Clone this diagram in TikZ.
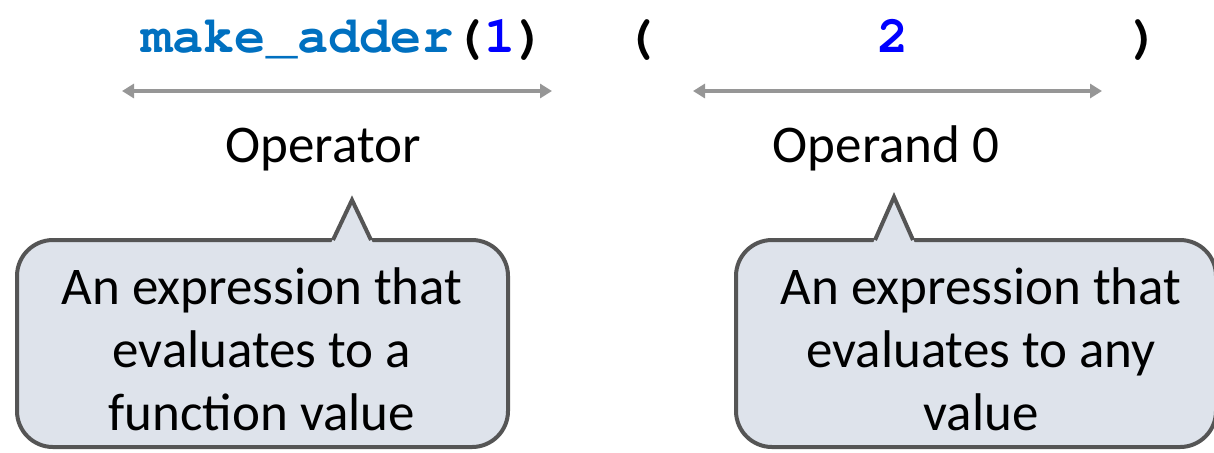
\documentclass[tikz,border=0pt]{standalone}
\usepackage[T1]{fontenc}
\usepackage{fontspec}
\setmainfont{Carlito}
\usetikzlibrary{arrows.meta,calc,positioning}

\newcommand\codefont{\fontencoding{T1}\fontfamily{pcr}\fontseries{b}\selectfont}

\definecolor{codeblue}{RGB}{0,112,192}
\definecolor{numblue}{RGB}{0,0,255}
\definecolor{spangray}{RGB}{150,150,150}
\definecolor{bubblefill}{RGB}{222,227,235}
\definecolor{bubbleline}{RGB}{85,85,85}

\tikzset{
  code/.style={font=\fontsize{26}{26}\codefont, inner sep=0pt, anchor=base},
  part/.style={font=\fontsize{26.5}{31}\selectfont, inner sep=0pt, anchor=base},
  span/.style={spangray, line width=2pt, {Triangle[length=6pt,width=7pt]}-{Triangle[length=6pt,width=7pt]}},
  bubble/.style={draw=bubbleline, fill=bubblefill, line width=2pt, rounded corners=18pt,
    minimum height=103.5pt, inner sep=0pt, outer sep=0pt},
  note/.style={align=center, inner sep=0pt, anchor=base, font=\fontsize{26.5}{31.5}\selectfont},
}

\begin{document}
\begin{tikzpicture}[x=0.5pt,y=-0.5pt]
\useasboundingbox (0,0) rectangle (1214,452);

% the call expression
\node[code] (fn) at (344,52) {\textcolor{codeblue}{make\_adder}(\textcolor{numblue}{1})};
\node[code] (lpar) at (640,52) {(};
\node[code, numblue] (arg) at (893,52) {2};
\node[code] (rpar) at (1145,52) {)};

% spans
\coordinate (opl) at (122,91);
\coordinate (opr) at (552,91);
\coordinate (argl) at (693,91);
\coordinate (argr) at (1102,91);
\draw[span] (opl) -- (opr);
\draw[span] (argl) -- (argr);

\node[part] (operator) at (323,162) {Operator};
\node[part] (operand) at (886,162) {Operand 0};

% callouts
\node[bubble, minimum width=245.5pt] (opbox) at (262.5,343.5) {};
\node[bubble, minimum width=240pt] (argbox) at (976,343.5) {};

\coordinate (optip) at (352,200);
\coordinate (argtip) at (894,197);
\foreach \tip/\bub in {optip/opbox, argtip/argbox}{
  \fill[bubblefill] ($(\tip |- \bub.north)+(-10.5pt,-1.6pt)$) -- (\tip) -- ($(\tip |- \bub.north)+(10.5pt,-1.6pt)$) -- cycle;
  \draw[bubbleline, line width=2pt] ($(\tip |- \bub.north)+(-9.5pt,0)$) -- (\tip) -- ($(\tip |- \bub.north)+(9.5pt,0)$);
}

\node[note] (opnote) at (262,430) {An expression that\\evaluates to a\\function value};
\node[note] (argnote) at (981,430) {An expression that\\evaluates to any\\value};

\end{tikzpicture}
\end{document}
